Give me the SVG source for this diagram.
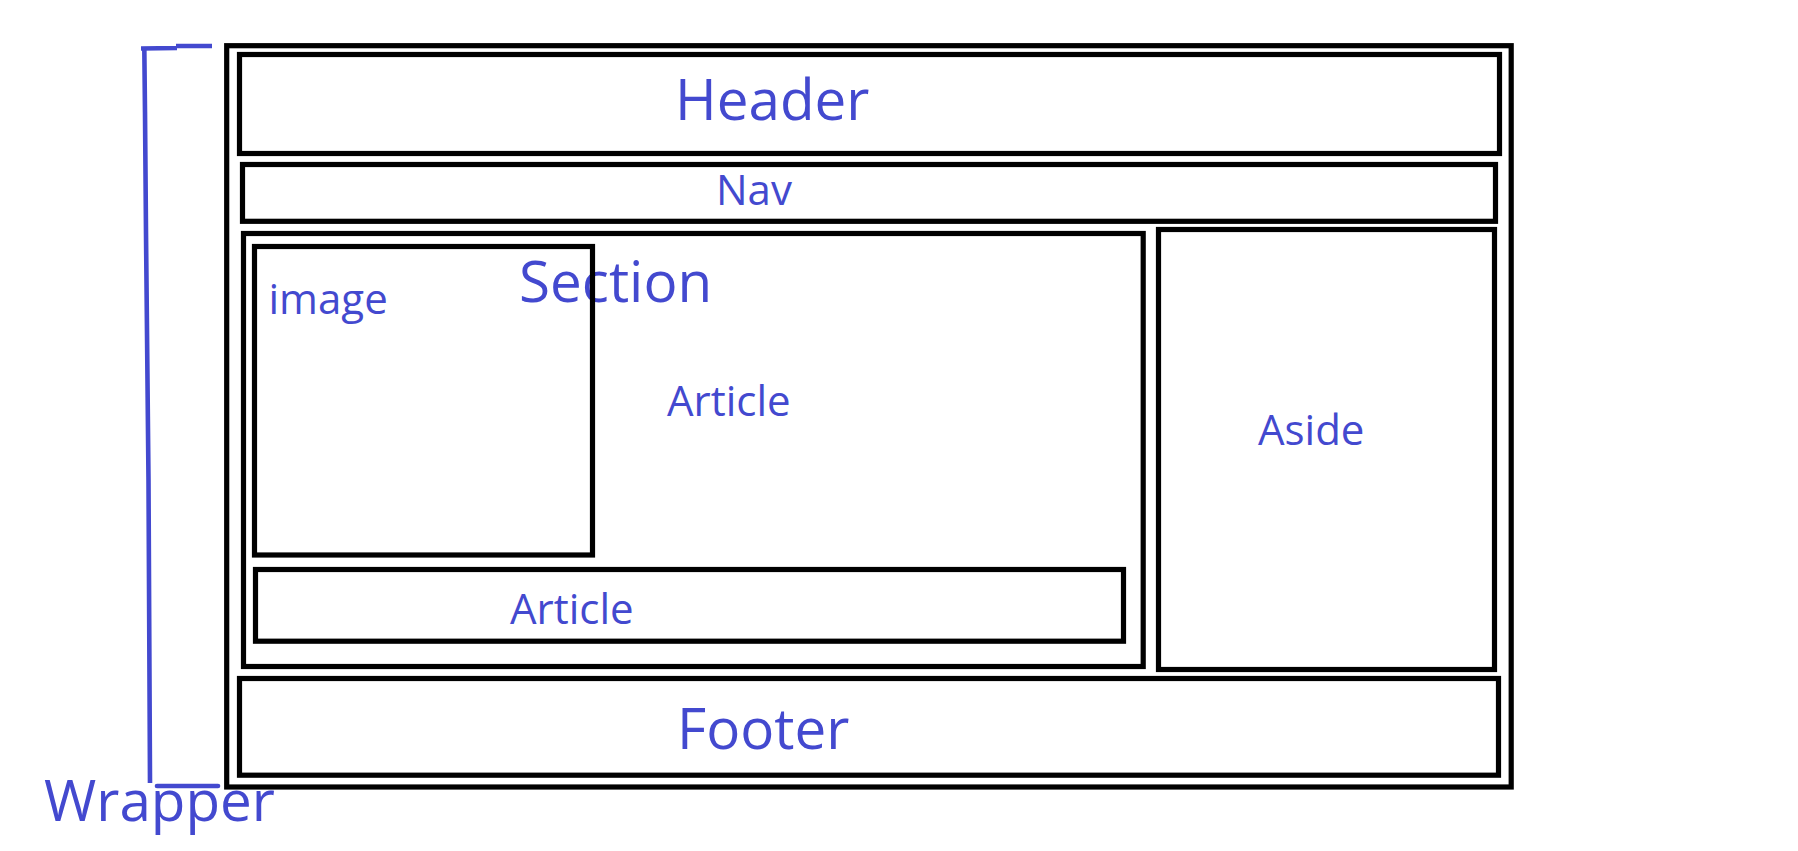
<svg xmlns="http://www.w3.org/2000/svg" width="1798" height="851" viewBox="0 0 1798 851">
  <style>
    .box { fill: none; stroke: #000; stroke-width: 5.2; }
    .ink { fill: none; stroke: #4349cf; stroke-width: 4.6; }
    .lbl { fill: #4349cf; font-family: "Open Sans", "Noto Sans", "DejaVu Sans", sans-serif; }
    .big { font-size: 56.6px; }
    .mid { font-size: 42px; }
  </style>
  <rect width="1798" height="851" fill="#fff"/>

  <!-- hand-drawn bracket marking the wrapper -->
  <g id="wrapper-bracket">
    <path class="ink" d="M141 48.5 L177 48 M176 46 L212 46"/>
    <path class="ink" d="M144.3 47 L145 112 L146 233 L148.5 480 L150 783"/>
    <path class="ink" d="M157 786 L218 786" stroke-linecap="round"/>
  </g>

  <g id="wrapper">
    <rect class="box" x="226.7" y="45.7" width="1284.5" height="741.3"/>
    <text class="lbl big" x="44" y="820.5">Wrapper</text>
  </g>

  <g id="header">
    <rect class="box" x="239.5" y="54.5" width="1260" height="99"/>
    <text class="lbl big" x="675" y="120">Header</text>
  </g>

  <g id="nav">
    <rect class="box" x="242.5" y="164.5" width="1253" height="56.8"/>
    <text class="lbl mid" x="716" y="205">Nav</text>
  </g>

  <g id="section">
    <rect class="box" x="243.5" y="233.5" width="899.7" height="433"/>
    <text class="lbl big" x="519" y="301.7">Section</text>
  </g>

  <g id="image">
    <rect class="box" x="254.5" y="246.5" width="338" height="308.5"/>
    <text class="lbl mid" x="268.5" y="314.3">image</text>
  </g>

  <g id="article-main">
    <text class="lbl mid" x="667" y="416">Article</text>
  </g>

  <g id="article-bottom">
    <rect class="box" x="255.5" y="569.5" width="868" height="71.7"/>
    <text class="lbl mid" x="510" y="624">Article</text>
  </g>

  <g id="aside">
    <rect class="box" x="1158.5" y="229.5" width="336" height="440"/>
    <text class="lbl mid" x="1258" y="445">Aside</text>
  </g>

  <g id="footer">
    <rect class="box" x="239.5" y="678.5" width="1259" height="96.7"/>
    <text class="lbl big" x="677" y="749.3">Footer</text>
  </g>

  <!-- no connectors in this layout -->
  <g id="connectors"/>
</svg>
